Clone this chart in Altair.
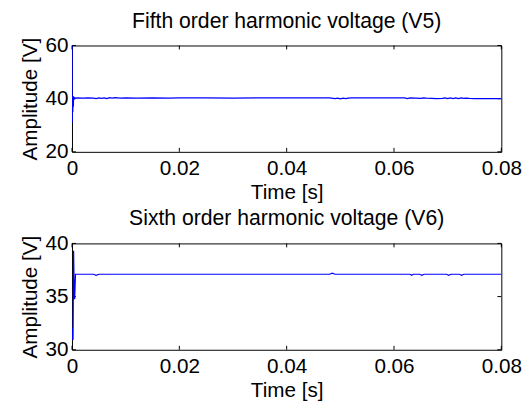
import altair as alt
import pandas as pd

# ---- data ----
t5 = [0.00002, 0.00005, 0.0001, 0.00015, 0.0002, 0.00025, 0.0003, 0.00035, 0.0004, 0.0006,
      0.001, 0.002, 0.003, 0.004, 0.0045, 0.005, 0.0055, 0.006, 0.0065, 0.007,
      0.0075, 0.008, 0.009, 0.01, 0.012, 0.015, 0.018, 0.02, 0.025, 0.03,
      0.035, 0.04, 0.045, 0.048, 0.049, 0.0495, 0.05, 0.0505, 0.051, 0.0515,
      0.052, 0.053, 0.055, 0.06, 0.062, 0.0625, 0.063, 0.064, 0.065, 0.0655,
      0.066, 0.067, 0.068, 0.069, 0.0695, 0.07, 0.0705, 0.071, 0.0715, 0.072,
      0.0725, 0.073, 0.0735, 0.074, 0.075, 0.08]
v5 = [65, 31, 41, 35, 41, 37, 40.8, 39.5, 40.4, 40.2,
      40.3, 40.2, 40.3, 40.2, 40.0, 40.3, 40.1, 40.3, 40.0, 40.4,
      40.2, 40.4, 40.2, 40.3, 40.2, 40.3, 40.2, 40.3, 40.3, 40.2,
      40.3, 40.3, 40.3, 40.3, 40.0, 40.2, 39.9, 40.2, 40.0, 40.2,
      40.3, 40.3, 40.3, 40.3, 40.3, 40.0, 40.3, 40.2, 40.1, 40.3,
      40.2, 40.1, 40.0, 40.1, 40.3, 40.0, 40.3, 40.0, 40.3, 40.0,
      40.3, 40.1, 40.2, 40.1, 40.0, 40.0]

t6 = [0.00002, 0.0001, 0.0002, 0.0003, 0.0004, 0.00045, 0.0005, 0.00065, 0.0008, 0.001,
      0.004, 0.0045, 0.005, 0.02, 0.048, 0.0485, 0.049, 0.0495, 0.063, 0.0633,
      0.0636, 0.0648, 0.0652, 0.0656, 0.0698, 0.0702, 0.0706, 0.0722, 0.0726, 0.073,
      0.08]
v6 = [32, 31, 31, 39.3, 36, 34.8, 34.8, 37.1, 37.1, 37.1,
      37.1, 37.0, 37.1, 37.1, 37.1, 37.2, 37.1, 37.1, 37.1, 37.0,
      37.1, 37.1, 37.0, 37.1, 37.1, 37.0, 37.1, 37.1, 37.0, 37.1,
      37.1]

x_ticks = [0, 0.02, 0.04, 0.06, 0.08]
y5_ticks = [20, 40, 60]
y6_ticks = [30, 35, 40]

titles = ["Fifth order harmonic voltage (V5)", "Sixth order harmonic voltage (V6)"]
x_title = "Time [s]"
y_title = "Amplitude [V]"

W, H = 436, 108
FONT = "Liberation Sans"
FS = 21


def panel(t, v, yticks, title, toff):
    df = pd.DataFrame({"t": t, "v": v})
    xs = alt.Scale(domain=[0, 0.08], nice=False, zero=False)
    ys = alt.Scale(domain=[yticks[0], yticks[-1]], nice=False, zero=False)
    common = dict(grid=False, ticks=False, domain=False, labelFlush=False,
                  labelFont=FONT, titleFont=FONT, labelFontSize=FS, titleFontSize=FS,
                  labelColor="black", titleColor="black", titleFontWeight="normal")
    xaxis = alt.Axis(values=x_ticks, format="~g", title=x_title,
                     labelPadding=6, titlePadding=3, **common)
    yaxis = alt.Axis(values=yticks, format="d", title=y_title,
                     labelPadding=4, titlePadding=5, **common)
    line = alt.Chart(df).mark_line(color="#0000ff", strokeWidth=1.2, clip=True).encode(
        x=alt.X("t:Q", scale=xs, axis=xaxis),
        y=alt.Y("v:Q", scale=ys, axis=yaxis),
    )
    xt = pd.DataFrame({"t": x_ticks})
    yt = pd.DataFrame({"v": yticks})
    tb = alt.Chart(xt).mark_rule(color="black", strokeWidth=1).encode(
        x=alt.X("t:Q", scale=xs), y=alt.value(H), y2=alt.value(H - 4))
    tt = alt.Chart(xt).mark_rule(color="black", strokeWidth=1).encode(
        x=alt.X("t:Q", scale=xs), y=alt.value(0), y2=alt.value(4))
    tl = alt.Chart(yt).mark_rule(color="black", strokeWidth=1).encode(
        y=alt.Y("v:Q", scale=ys), x=alt.value(0), x2=alt.value(4))
    tr = alt.Chart(yt).mark_rule(color="black", strokeWidth=1).encode(
        y=alt.Y("v:Q", scale=ys), x=alt.value(W - 4), x2=alt.value(W))
    return alt.layer(tb, tt, tl, tr, line).properties(
        width=W, height=H,
        title=alt.TitleParams(title, fontSize=21.5, font=FONT, fontWeight="normal",
                              color="black", offset=toff),
    )


chart = alt.vconcat(
    panel(t5, v5, y5_ticks, titles[0], 2),
    panel(t6, v6, y6_ticks, titles[1], 3),
    spacing=5,
).properties(
    padding={"left": 11, "top": 0, "right": 0, "bottom": 0},
    background="white",
).configure_view(
    stroke="black", strokeWidth=1
)

chart.save("out.html", embed_options={"renderer": "svg", "actions": False})
